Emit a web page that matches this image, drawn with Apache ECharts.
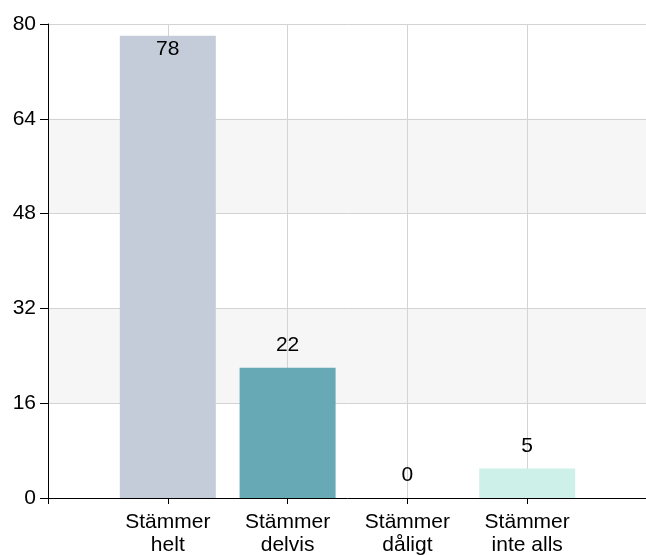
<!DOCTYPE html>
<html><head><meta charset="utf-8">
<script src="https://cdn.jsdelivr.net/npm/echarts@6/dist/echarts.min.js"></script>
<style>html,body{margin:0;padding:0;background:#fff;overflow:hidden}#c{width:646px;height:555px}</style>
</head><body><div id="c"></div>
<script>
var categories = ['', 'Stämmer\nhelt', 'Stämmer\ndelvis', 'Stämmer\ndåligt', 'Stämmer\ninte alls', ''];
var values = [null, 78, 22, 0, 5, null];
var barColors = ['#c5ccd9', '#c5ccd9', '#67a9b5', '#67a9b5', '#cdf0e8', '#cdf0e8'];
var yTicks = [0, 16, 32, 48, 64, 80];

var font = 'Liberation Sans, Arial, sans-serif';
var chart = echarts.init(document.getElementById('c'), null, {renderer: 'canvas'});
chart.setOption({
  animation: false,
  grid: {left: 48, right: -1, top: 24, bottom: 57, containLabel: false, outerBoundsMode: 'none'},
  xAxis: {
    type: 'category',
    data: categories,
    boundaryGap: false,
    axisLine: {lineStyle: {color: '#000', width: 1}},
    axisTick: {show: true, length: 6, lineStyle: {color: '#000'}},
    axisLabel: {color: '#000', fontSize: 21, fontFamily: font, lineHeight: 23, margin: 13, interval: 0},
    splitLine: {show: true, lineStyle: {color: '#d3d3d3', width: 1}}
  },
  yAxis: {
    type: 'value',
    min: yTicks[0], max: yTicks[yTicks.length - 1], interval: 16,
    axisLine: {show: true, lineStyle: {color: '#000', width: 1}},
    axisTick: {show: true, length: 8, lineStyle: {color: '#000'}},
    axisLabel: {color: '#000', fontSize: 21, fontFamily: font, margin: 12},
    splitLine: {show: true, lineStyle: {color: '#d3d3d3', width: 1}},
    splitArea: {show: true, areaStyle: {color: ['rgba(255,255,255,0)', '#f6f6f6']}}
  },
  series: [{
    type: 'bar',
    barWidth: 96,
    data: values.map(function (v, i) {
      return {
        value: v,
        itemStyle: {color: barColors[i]},
        label: i === 1 ? {position: 'insideTop', distance: 3} : {position: 'top', distance: 12}
      };
    }),
    label: {show: true, color: '#000', fontSize: 21, fontFamily: font}
  }]
});
</script></body></html>
